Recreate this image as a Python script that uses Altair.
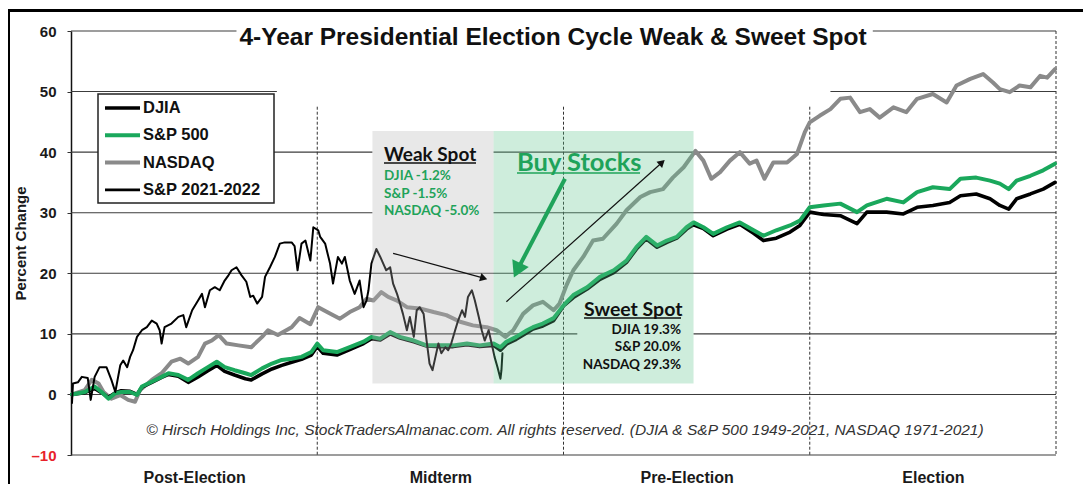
import altair as alt
import pandas as pd

# ---------------- data ----------------
SERIES = ["DJIA", "S&P 500", "NASDAQ", "S&P 2021-2022"]
COLORS = ["#000000", "#1aa85c", "#8a8a8a", "#000000"]
WIDTHS = [3.6, 4, 4, 2]
PHASES = ["Post-Election", "Midterm", "Pre-Election", "Election"]
Y_TICKS = [-10, 0, 10, 20, 30, 40, 50, 60]

MAIN_DAYS = [1, 14, 24, 31, 38, 45, 51, 60, 67, 72, 82, 92, 99, 109, 119, 129, 139, 148, 156, 166,
             177, 183, 194, 204, 214, 224, 234, 244, 250, 256, 270, 283, 297, 305, 314, 324, 334, 348, 361, 375,
             388, 402, 415, 429, 436, 442, 452, 463, 469, 479, 490, 500, 510, 524, 537, 551, 564, 574, 584, 595,
             605, 615, 625, 632, 642, 652, 666, 679, 693, 703, 716, 730, 740, 750, 764, 781, 798, 808, 828, 845,
             859, 875, 892, 903, 919, 933, 943, 952, 960, 974, 987, 999]
SP500_VALS = [0, 0.4, 1.3, 0.4, -0.7, 0.2, 0.4, 0.4, -0.1, 1.3, 2.1, 2.9, 3.5, 3.2, 2.4, 3.5, 4.5, 5.4, 4.5, 4.0,
              3.5, 3.2, 4.3, 5.1, 5.7, 5.9, 6.2, 7.0, 8.4, 7.3, 7.0, 7.8, 8.7, 9.5, 9.2, 10.3, 9.5, 8.9, 8.1, 8.1,
              8.1, 8.4, 8.1, 8.4, 7.8, 8.7, 9.5, 10.6, 11.1, 11.7, 12.6, 14.7, 16.4, 17.7, 19.4, 20.5, 22.1, 24.3, 26.0, 24.6,
              25.4, 26.0, 27.6, 28.4, 27.6, 26.5, 27.6, 28.4, 27.1, 26.2, 27.1, 27.9, 28.7, 30.9, 31.2, 31.5, 30.1, 31.2, 32.3, 31.7,
              33.4, 34.2, 33.9, 35.6, 35.8, 35.3, 34.8, 33.9, 35.3, 36.1, 37.0, 38.1]
DJIA_VALS = [0, 0.3, 1.0, 0.3, -0.5, 0.3, 0.6, 0.5, 0.0, 1.2, 2.0, 2.8, 3.3, 3.0, 2.0, 2.9, 3.9, 4.8, 3.8, 3.2,
             2.6, 2.4, 3.4, 4.2, 4.8, 5.3, 5.8, 6.5, 7.9, 6.8, 6.5, 7.4, 8.4, 9.2, 9.0, 10.0, 9.3, 8.7, 8.0, 7.9,
             7.9, 8.2, 7.9, 8.1, 7.3, 8.3, 9.1, 10.2, 10.8, 11.3, 12.2, 14.6, 16.0, 17.4, 19.0, 20.1, 21.8, 24.0, 25.7, 24.3,
             25.1, 25.8, 27.3, 28.0, 27.4, 26.2, 27.3, 28.1, 26.6, 25.4, 25.8, 26.8, 27.9, 30.1, 29.7, 29.5, 28.2, 30.1, 30.1, 29.8,
             30.9, 31.2, 31.7, 32.8, 33.1, 32.3, 31.2, 30.6, 32.3, 33.1, 33.9, 35.0]

NASDAQ_DAYS = [1, 14, 21, 28, 33, 41, 50, 58, 65, 70, 82, 92, 102, 111, 119, 129, 136, 143, 150, 158,
               170, 183, 194, 200, 210, 224, 232, 243, 251, 260, 273, 283, 293, 300, 307, 315, 322, 331, 341, 354,
               368, 381, 395, 408, 422, 432, 441, 449, 459, 469, 479, 490, 496, 503, 510, 520, 530, 540, 554, 564,
               578, 588, 601, 611, 622, 634, 642, 650, 659, 669, 679, 689, 696, 704, 713, 727, 737, 745, 750, 760,
               771, 781, 791, 801, 811, 821, 835, 848, 859, 875, 889, 899, 913, 926, 936, 943, 953, 963, 974, 984,
               991, 999]
NASDAQ_VALS = [0, 0.7, 2.4, 1.8, 0.4, -0.7, -0.1, -0.9, -1.2, 0.7, 2.4, 3.5, 5.4, 5.9, 5.1, 6.2, 8.4, 8.9, 9.8, 8.4,
               8.1, 7.8, 9.5, 10.6, 9.8, 11.1, 12.6, 11.6, 14.4, 13.6, 12.5, 13.6, 14.4, 15.8, 15.5, 16.9, 16.1, 15.5, 14.4, 14.2,
               13.6, 13.1, 12.0, 11.4, 11.1, 10.6, 9.5, 10.6, 13.3, 14.7, 15.3, 13.9, 15.0, 18.0, 20.5, 22.7, 25.4, 25.7, 28.2, 30.4,
               32.6, 33.4, 33.9, 35.8, 37.5, 40.2, 38.6, 35.6, 36.7, 38.6, 40.0, 38.1, 38.6, 35.6, 38.3, 38.3, 39.7, 43.3, 44.9, 46.0,
               47.1, 48.8, 49.0, 46.6, 47.1, 45.7, 47.4, 46.6, 48.8, 49.6, 48.2, 51.0, 52.1, 52.9, 51.5, 50.4, 49.9, 51.0, 50.7, 52.6,
               52.3, 53.7]

SP2122_DAYS = [1, 2, 7, 11, 17, 20, 24, 29, 36, 41, 45, 50, 53, 57, 60, 63, 67, 72, 77, 82,
               87, 90, 92, 95, 102, 109, 114, 117, 123, 129, 133, 136, 141, 146, 151, 156, 160, 163, 168, 173,
               178, 182, 185, 189, 194, 197, 202, 207, 212, 217, 224, 227, 230, 234, 238, 243, 246, 251, 253, 258,
               263, 266, 271, 275, 278, 283, 288, 293, 297, 300, 302, 305, 310, 314, 317, 320, 324, 327, 331, 334,
               337, 341, 344, 348, 351, 354, 358, 361, 364, 367, 370, 373, 376, 380, 383, 386, 390, 393, 397, 400,
               403, 407, 410, 414, 417, 420, 424, 427, 430, 433, 436, 437, 438]
SP2122_VALS = [-1.4, 1.8, 2.0, 2.9, 2.7, -0.9, 2.9, 4.5, 4.5, 2.4, 0.4, 4.8, 5.6, 4.5, 6.2, 7.3, 9.5, 10.6, 11.1, 12.2,
               11.7, 10.6, 8.4, 11.1, 11.7, 12.8, 13.1, 11.1, 13.9, 15.5, 16.6, 14.4, 17.2, 17.7, 17.2, 18.8, 19.7, 20.5, 21.0, 19.7,
               18.6, 16.1, 16.3, 15.0, 16.1, 19.4, 21.0, 22.7, 24.9, 25.1, 25.1, 24.5, 20.5, 24.9, 25.4, 22.1, 27.6, 27.1, 26.0, 24.9,
               21.6, 18.3, 22.7, 21.6, 22.7, 18.8, 16.6, 18.8, 14.4, 15.5, 17.2, 21.6, 24.0, 22.7, 21.6, 20.5, 21.0, 18.3, 16.6, 15.0,
               13.3, 10.6, 12.8, 9.5, 13.9, 14.4, 13.3, 8.9, 5.1, 4.0, 6.2, 8.4, 6.8, 7.8, 7.3, 8.4, 10.6, 12.2, 13.9, 12.8,
               16.1, 17.2, 15.5, 12.8, 10.6, 8.9, 10.6, 8.4, 6.2, 4.5, 2.6, 4.0, 6.8]

WEAK_LINES = ["DJIA -1.2%", "S&P -1.5%", "NASDAQ -5.0%"]
SWEET_LINES = ["DJIA 19.3%", "S&P 20.0%", "NASDAQ 29.3%"]
NOTE = ("\u00a9 Hirsch Holdings Inc, StockTradersAlmanac.com. All rights reserved. "
        "(DJIA & S&P 500 1949-2021, NASDAQ 1971-2021)")
TITLE = "4-Year Presidential Election Cycle Weak & Sweet Spot"

# gridline segments: (value, start day, end day)
GRID = [(60, 0, 168), (60, 814, 1000), (50, 0, 209), (50, 771, 1000),
        (40, 0, 306), (40, 429, 1000), (30, 0, 306), (30, 429, 1000),
        (20, 0, 1000), (10, 0, 514), (10, 632, 1000), (0, 0, 1000), (-10, 0, 1000)]

# ---------------- tables ----------------
rows = []
for name, days, vals in [("DJIA", MAIN_DAYS, DJIA_VALS), ("S&P 500", MAIN_DAYS, SP500_VALS),
                         ("NASDAQ", NASDAQ_DAYS, NASDAQ_VALS), ("S&P 2021-2022", SP2122_DAYS, SP2122_VALS)]:
    for d, v in zip(days, vals):
        rows.append({"series": name, "day": d, "pct": v})
df = pd.DataFrame(rows)
grid_df = pd.DataFrame(GRID, columns=["y", "x0", "x1"])
dummy = pd.DataFrame({"k": [0]})

W, H = 985, 424
xs = alt.Scale(domain=[0, 1000], nice=False, zero=False)
ys = alt.Scale(domain=[-10, 60], nice=False, zero=False)
cs = alt.Scale(domain=SERIES, range=COLORS)

phase_expr = "[" + ",".join("'%s'" % p for p in PHASES) + "][floor(datum.value/250)]"
x_axis = alt.Axis(values=[125, 375, 625, 875], labelExpr=phase_expr, title=None, grid=False,
                  domain=False, ticks=False, labelPadding=14, labelFontSize=16, labelFontWeight="bold",
                  labelFont="Liberation Sans", labelColor="#1a1a1a")
y_axis = alt.Axis(values=Y_TICKS, grid=False, title="Percent Change", titleFont="Liberation Sans",
                  titleFontSize=15, titleFontWeight="bold", titleColor="#1a1a1a", titlePadding=2,
                  labelFont="Liberation Sans", labelFontSize=15, labelFontWeight="bold",
                  labelExpr="datum.value < 0 ? '\u2013' + abs(datum.value) : datum.label",
                  labelColor=alt.condition("datum.value < 0", alt.value("#e8222b"), alt.value("#1a1a1a")),
                  labelPadding=11, tickSize=4, tickColor="#333", domainColor="#111", domainWidth=1.5)

def series_line(name, width):
    return alt.Chart(df).transform_filter(alt.datum.series == name).mark_line(
        strokeWidth=width, strokeJoin="round", strokeCap="round").encode(
        x=alt.X("day:Q", scale=xs, axis=x_axis),
        y=alt.Y("pct:Q", scale=ys, axis=y_axis),
        color=alt.Color("series:N", scale=cs, legend=None),
    )

grid = alt.Chart(grid_df).mark_rule(color="#3c3c3c", strokeWidth=1.1).encode(
    x=alt.X("x0:Q", scale=xs, axis=x_axis), x2="x1:Q", y=alt.Y("y:Q", scale=ys, axis=y_axis))

def vrule(day, top):
    return alt.Chart(dummy).mark_rule(color="#333", strokeWidth=1, strokeDash=[3, 2]).encode(
        x=alt.datum(day), y=alt.datum(top), y2=alt.datum(-10))

def band(x0, x1, color, op):
    return alt.Chart(dummy).mark_rect(color=color, opacity=op).encode(
        x=alt.datum(x0), x2=alt.datum(x1), y=alt.datum(43.5), y2=alt.datum(1.8))

def txt(s, x, y, size, color="#111", weight="bold", align="left", font="Lato", style="normal"):
    return alt.Chart(dummy).mark_text(text=s, fontSize=size, color=color, fontWeight=weight, align=align,
                                      baseline="middle", font=font, fontStyle=style).encode(
        x=alt.value(x), y=alt.value(y))

def prule(x0, x1, y0, y1, color="#111", width=1.5):
    return alt.Chart(dummy).mark_rule(color=color, strokeWidth=width).encode(
        x=alt.value(x0), x2=alt.value(x1), y=alt.value(y0), y2=alt.value(y1))

def arrow(x0, y0, x1, y1, ang, color, width, size):
    shaft = alt.Chart(dummy).mark_rule(color=color, strokeWidth=width).encode(
        x=alt.datum(x0), y=alt.datum(y0), x2=alt.datum(x1), y2=alt.datum(y1))
    head = alt.Chart(dummy).mark_point(shape="triangle-up", filled=True, size=size, angle=ang,
                                       color=color, opacity=1).encode(x=alt.datum(x1), y=alt.datum(y1))
    return [shaft, head]

# legend box (drawn by hand so its rows match the original spacing)
legend_box = alt.Chart(dummy).mark_rect(fill="white", stroke="#222", strokeWidth=1.5).encode(
    x=alt.value(27), x2=alt.value(203), y=alt.value(63), y2=alt.value(172))
legend_layers = [legend_box]
for i, (name, col, w) in enumerate(zip(SERIES, COLORS, WIDTHS)):
    yrow = 77 + i * 27.3
    legend_layers.append(prule(34, 69, yrow, yrow, color=col, width=max(w, 2.6) if i < 3 else 2.6))
    legend_layers.append(txt(name, 72, yrow, 16.5, font="Liberation Sans"))

GREEN = "#1fa35a"
layers = [grid,
          vrule(250, 47.5), vrule(500, 47.5), vrule(750, 47.5), vrule(1000, 60)]
layers += [series_line(n, w) for n, w in [("NASDAQ", 4), ("DJIA", 3.6), ("S&P 500", 4), ("S&P 2021-2022", 2)]]
layers += [band(306, 429, "#b3b3b3", 0.3), band(429, 632, "#5cc48c", 0.3)]
layers += legend_layers
layers += [
          txt(TITLE, 482, 7, 24.5, font="Liberation Sans", align="center"),
          txt("Weak Spot", 313, 124, 19),
          prule(313, 405, 132, 132, width=1.5),
          txt(WEAK_LINES[0], 313, 145, 13.5, color=GREEN),
          txt(WEAK_LINES[1], 313, 163, 13.5, color=GREEN),
          txt(WEAK_LINES[2], 313, 180, 13.5, color=GREEN),
          txt("Buy Stocks", 446, 132, 25.5, color=GREEN),
          prule(446, 569, 142, 142, color=GREEN, width=1.5),
          txt("Sweet Spot", 513, 279, 19.5),
          prule(513, 610, 287, 287, width=1.5),
          txt(SWEET_LINES[0], 610, 299, 13.5, align="right"),
          txt(SWEET_LINES[1], 610, 316, 13.5, align="right"),
          txt(SWEET_LINES[2], 610, 334, 13.5, align="right"),
          txt(NOTE, 494, 399, 15.5, color="#333", weight="normal", align="center",
              font="Liberation Sans", style="italic"),
          prule(-63, 1020, -20.5, -20.5, color="#000", width=3),
          prule(-62.5, -62.5, -22, 470, color="#000", width=3),
          ]
layers += arrow(327, 23.3, 419, 19.2, 106, "#111", 1.2, 70)
layers += arrow(501.5, 35.6, 453, 20.5, 205, GREEN, 4, 330)
layers += arrow(442, 15.3, 600, 38.3, 48, "#111", 1.2, 70)

chart = alt.layer(*layers).properties(
    width=W, height=H, autosize="none",
    padding={"left": 63, "top": 23, "right": 27, "bottom": 29},
    background="white",
).configure_view(stroke=None)

chart.save("out.html", embed_options={"renderer": "svg", "actions": False})
